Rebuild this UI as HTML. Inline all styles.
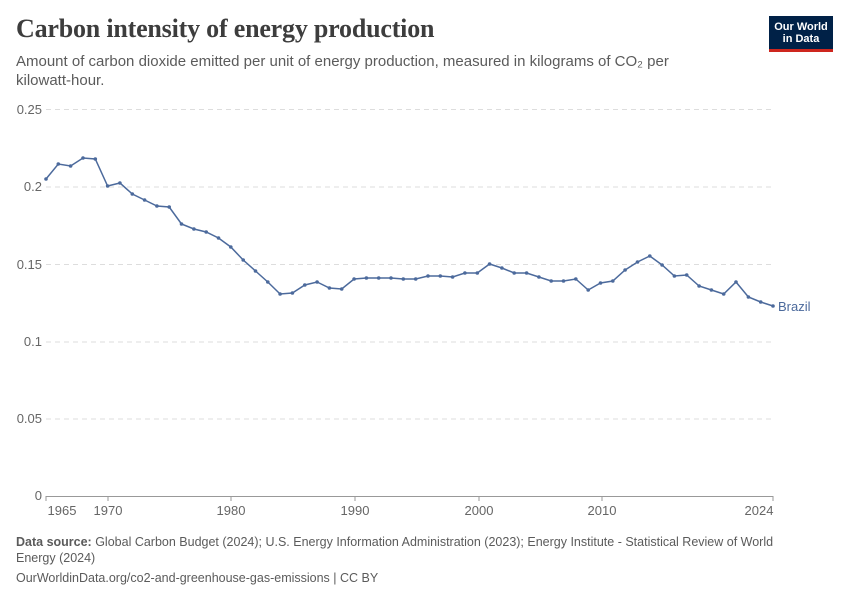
<!DOCTYPE html>
<html><head><meta charset="utf-8"><style>
body{margin:0;background:#fff;width:850px;height:600px;overflow:hidden;font-family:"Liberation Sans",sans-serif}
.t{position:absolute;left:16px;top:14px;font-family:"Liberation Serif",serif;font-size:26px;font-weight:bold;color:#3d3d3d;letter-spacing:-0.2px}
.s{position:absolute;left:16px;top:52px;font-size:15px;color:#5b5b5b;line-height:19px;width:700px}
.logo{position:absolute;left:769px;top:16px;width:64px;height:36px;background:#002147;border-bottom:3px solid #ce261e;color:#fff;font-size:11px;font-weight:bold;text-align:center;line-height:12px;padding-top:5px;box-sizing:border-box}
.f{position:absolute;left:16px;font-size:12.5px;color:#5b5b5b;line-height:16px;width:760px}
</style></head><body>
<div class="t">Carbon intensity of energy production</div>
<div class="s">Amount of carbon dioxide emitted per unit of energy production, measured in kilograms of CO₂ per kilowatt-hour.</div>
<div class="logo">Our World<br>in Data</div>
<svg width="850" height="600" style="position:absolute;left:0;top:0" font-family="Liberation Sans,sans-serif" font-size="13" fill="#666">
<g stroke="#ddd" stroke-dasharray="5,4">
<line x1="46" x2="773" y1="109.5" y2="109.5"/><line x1="46" x2="773" y1="187" y2="187"/><line x1="46" x2="773" y1="264.5" y2="264.5"/><line x1="46" x2="773" y1="342" y2="342"/><line x1="46" x2="773" y1="419" y2="419"/>
</g>
<line x1="46" x2="773" y1="496.5" y2="496.5" stroke="#999"/>
<g text-anchor="end"><text x="42" y="114">0.25</text><text x="42" y="191">0.2</text><text x="42" y="269">0.15</text><text x="42" y="346">0.1</text><text x="42" y="423">0.05</text><text x="42" y="500">0</text></g>
<g stroke="#999"><line x1="46" x2="46" y1="496" y2="501"/><line x1="108" x2="108" y1="496" y2="501"/><line x1="231" x2="231" y1="496" y2="501"/><line x1="355" x2="355" y1="496" y2="501"/><line x1="479" x2="479" y1="496" y2="501"/><line x1="602" x2="602" y1="496" y2="501"/><line x1="773" x2="773" y1="496" y2="501"/></g>
<g text-anchor="middle"><text x="62" y="515">1965</text><text x="108" y="515">1970</text><text x="231" y="515">1980</text><text x="355" y="515">1990</text><text x="479" y="515">2000</text><text x="602" y="515">2010</text><text x="759" y="515">2024</text></g>
<polyline id="p" fill="none" stroke="#4c6a9c" stroke-width="1.5" points=""/>
<g id="d" fill="#4c6a9c"></g>
<text x="778" y="311" fill="#4c6a9c">Brazil</text>
</svg>
<div class="f" style="top:534px"><b>Data source:</b> Global Carbon Budget (2024); U.S. Energy Information Administration (2023); Energy Institute - Statistical Review of World Energy (2024)</div>
<div class="f" style="top:570px">OurWorldinData.org/co2-and-greenhouse-gas-emissions | CC BY</div>
<script>
var y=[179,164,166,158,159,186,183,194,200,206,207,224,229,232,238,247,260,271,282,294,293,285,282,288,289,279,278,278,278,279,279,276,276,277,273,273,264,268,273,273,277,281,281,279,290,283,281,270,262,256,265,276,275,286,290,294,282,297,302,306];
var pts=[],g='';
for(var i=0;i<y.length;i++){var x=46+i*(727/59);pts.push(x.toFixed(1)+','+y[i]);g+='<circle cx="'+x.toFixed(1)+'" cy="'+y[i]+'" r="1.8"/>';}
document.getElementById('p').setAttribute('points',pts.join(' '));
document.getElementById('d').innerHTML=g;
</script>
</body></html>
